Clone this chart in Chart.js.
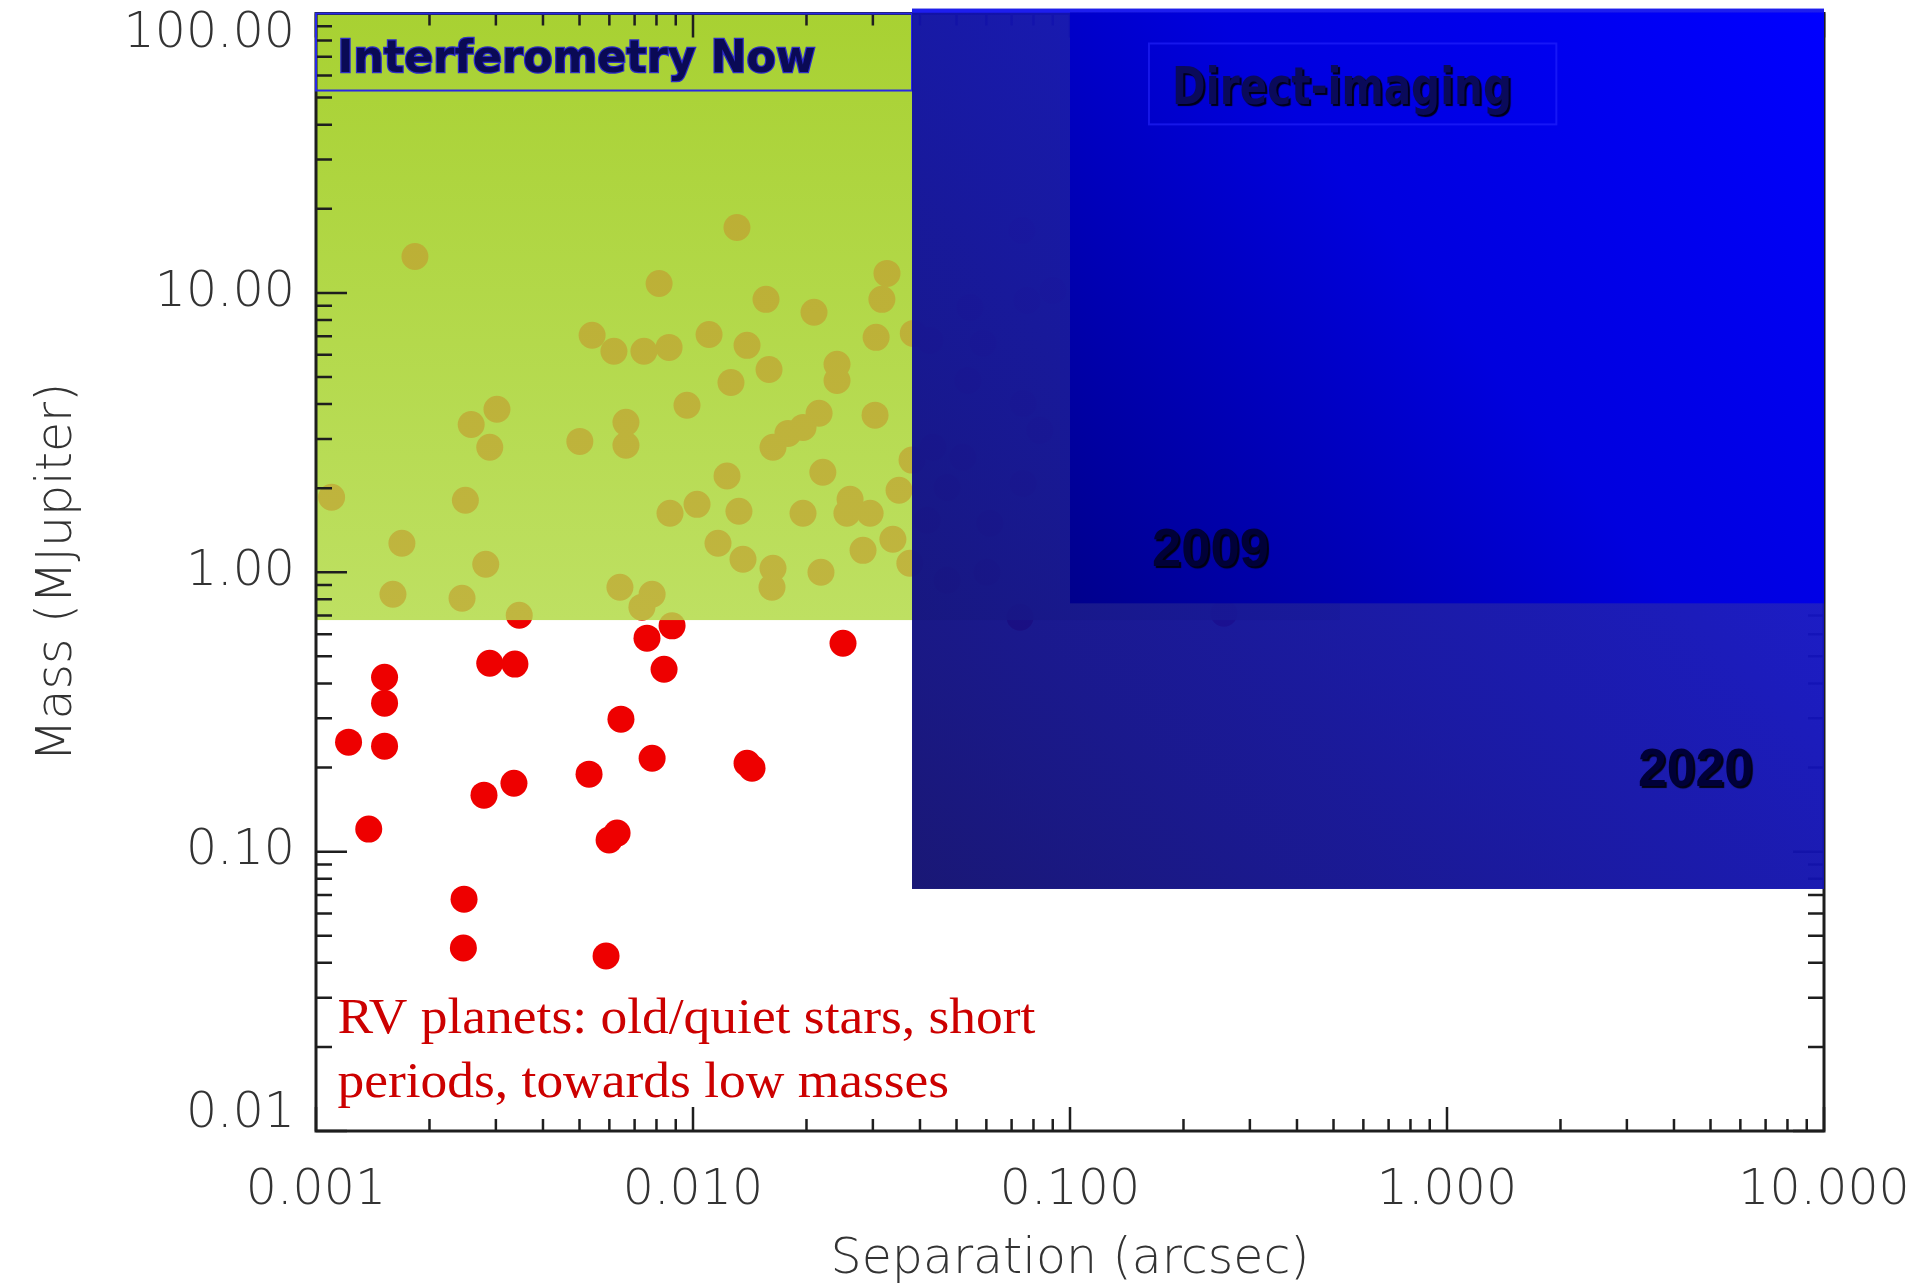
<!DOCTYPE html>
<html>
<head>
<meta charset="utf-8">
<title>Mass vs separation</title>
<script src="https://cdn.jsdelivr.net/npm/chart.js@4.4.1/dist/chart.umd.min.js"></script>
<style>
  html, body { margin: 0; padding: 0; background: #fff; overflow: hidden; }
  canvas { display: block; }
</style>
</head>
<body>
<canvas id="massChart" width="1915" height="1286"></canvas>
<script>
// --- planets (separation in arcsec, mass in MJupiter) ---
// inside the interferometry box
const sepInterf = [0.00183, 0.00540, 0.00617, 0.00302, 0.00258, 0.00289, 0.00501, 0.00664, 0.00664, 0.00110,
                   0.00249, 0.01308, 0.00813, 0.01562, 0.02094, 0.0327, 0.0317, 0.0306, 0.00741, 0.00864,
                   0.01103, 0.01391, 0.01591, 0.01261, 0.0241, 0.0241, 0.00964, 0.0216, 0.01958, 0.01786,
                   0.0163, 0.0304, 0.01231, 0.01025, 0.00869, 0.01324, 0.01958, 0.0221, 0.0256, 0.0261,
                   0.0295, 0.0352, 0.00169, 0.00282, 0.00160, 0.00244, 0.00640, 0.0339, 0.02825, 0.01165,
                   0.01357, 0.0163, 0.0162, 0.02185, 0.00779, 0.00732, 0.00346, 0.0376, 0.0381, 0.0384];
const massInterf = [13.5, 7.05, 6.18, 3.83, 3.38, 2.80, 2.94, 3.44, 2.85, 1.855,
                    1.81, 17.15, 10.8, 9.48, 8.52, 11.74, 9.48, 6.93, 6.18, 6.38,
                    7.10, 6.49, 5.32, 4.78, 5.55, 4.86, 3.96, 3.71, 3.30, 3.14,
                    2.80, 3.65, 2.21, 1.75, 1.626, 1.653, 1.626, 2.28, 1.626, 1.825,
                    1.626, 1.966, 1.27, 1.068, 0.834, 0.807, 0.884, 1.313, 1.198, 1.27,
                    1.113, 1.033, 0.884, 1.00, 0.834, 0.750, 0.702, 1.077, 2.52, 7.16];
// low-mass RV planets
const sepLow = [0.00289, 0.00337, 0.00152, 0.00152, 0.00122, 0.00152, 0.00644, 0.0053, 0.00335, 0.00279,
                0.00138, 0.00599, 0.00629, 0.00247, 0.00246, 0.00588, 0.0088, 0.00755, 0.00838, 0.0250,
                0.00779, 0.01391, 0.01434];
const massLow = [0.4726, 0.469, 0.421, 0.340, 0.2465, 0.2385, 0.298, 0.1894, 0.1758, 0.1593,
                 0.1204, 0.110, 0.1165, 0.0676, 0.0452, 0.0423, 0.643, 0.581, 0.4497, 0.557,
                 0.216, 0.2073, 0.199];
// wider planets, seen only faintly under the direct-imaging area
const sepWide = [0.0746, 0.0543, 0.0769, 0.0901, 0.0425, 0.0588, 0.0536, 0.0751, 0.0832, 0.0433,
                 0.0520, 0.0472, 0.0751, 0.0418, 0.0613, 0.0472, 0.0602, 0.0737, 0.256];
const massWide = [16.73, 8.87, 9.40, 10.2, 6.76, 6.60, 4.86, 4.02, 3.22, 2.80,
                  2.58, 2.01, 2.08, 1.535, 1.497, 0.936, 1.00, 0.690, 0.713];

// axes
const xTickValues = [0.001, 0.01, 0.1, 1, 10];
const xTickLabels = ['0.001', '0.010', '0.100', '1.000', '10.000'];
const yTickValues = [0.01, 0.1, 1, 10, 100];
const yTickLabels = ['0.01', '0.10', '1.00', '10.00', '100.00'];

// shaded areas (data coordinates)
const interfAreaX = [0.001, 0.52];
const interfAreaY = [0.673, 100];
const interfLabelBoxY = [53, 100];
const direct2020X = [0.0381, 10];
const direct2020Y = [0.0735, 104];
const direct2009X = [0.1, 10];
const direct2009Y = [0.774, 100.8];

const axisFont = "'DejaVu Sans', sans-serif";

const points = [];
[[sepInterf, massInterf], [sepLow, massLow], [sepWide, massWide]].forEach(([xs, ys]) => {
    xs.forEach((s, i) => points.push({ x: s, y: ys[i] }));
});

function isPow10(v) {
    const l = Math.log10(v);
    return Math.abs(l - Math.round(l)) < 1e-6;
}
function isWholeStep(v) {
    const s = v / Math.pow(10, Math.floor(Math.log10(v) + 1e-9));
    return Math.abs(s - Math.round(s)) < 1e-6;
}
function labelFor(v, values, labels) {
    const i = values.findIndex(t => Math.abs(Math.log10(t) - Math.log10(v)) < 1e-6);
    return i < 0 ? '' : labels[i];
}

// tick marks point inwards on all four sides, like the original plot
function drawFrame(chart) {
    const { ctx, chartArea: a, scales: { x, y } } = chart;
    ctx.save();
    ctx.strokeStyle = '#1e1e1e';
    ctx.lineWidth = 2.5;
    ctx.beginPath();
    x.ticks.forEach(t => {
        if (!isWholeStep(t.value)) return;
        const p = x.getPixelForValue(t.value);
        const len = isPow10(t.value) ? 24 : 12;
        ctx.moveTo(p, a.bottom); ctx.lineTo(p, a.bottom - len);
        ctx.moveTo(p, a.top); ctx.lineTo(p, a.top + len);
    });
    y.ticks.forEach(t => {
        if (!isWholeStep(t.value)) return;
        const p = y.getPixelForValue(t.value);
        const len = isPow10(t.value) ? 31 : 16;
        ctx.moveTo(a.left, p); ctx.lineTo(a.left + len, p);
        ctx.moveTo(a.right, p); ctx.lineTo(a.right - len, p);
    });
    ctx.stroke();
    ctx.lineWidth = 3;
    ctx.strokeRect(a.left, a.top, a.right - a.left, a.bottom - a.top);
    ctx.restore();
}

function rectOf(chart, xr, yr) {
    const { x, y } = chart.scales;
    const x0 = x.getPixelForValue(xr[0]), x1 = x.getPixelForValue(xr[1]);
    const y0 = y.getPixelForValue(yr[1]), y1 = y.getPixelForValue(yr[0]);
    return { x0, y0, x1, y1, w: x1 - x0, h: y1 - y0 };
}

function fitText(ctx, text, x, y, width) {
    const w = ctx.measureText(text).width;
    ctx.save();
    ctx.translate(x, y);
    ctx.scale(width / w, 1);
    ctx.fillText(text, 0, 0);
    ctx.restore();
    return width / w;
}

const areasPlugin = {
    id: 'areas',
    afterDatasetsDraw(chart) {
        const { ctx } = chart;

        // interferometry area: points under it turn olive, green goes behind them
        const g = rectOf(chart, interfAreaX, interfAreaY);
        ctx.save();
        ctx.beginPath();
        ctx.rect(g.x0, g.y0, g.w, g.h);
        ctx.clip();
        ctx.globalCompositeOperation = 'source-atop';
        const olive = ctx.createLinearGradient(0, g.y0, 0, g.y1);
        olive.addColorStop(0, 'rgb(186,172,48)');
        olive.addColorStop(1, 'rgb(192,182,64)');
        ctx.fillStyle = olive;
        ctx.fillRect(g.x0, g.y0, g.w, g.h);
        ctx.globalCompositeOperation = 'destination-over';
        const green = ctx.createLinearGradient(0, g.y0, 0, g.y1);
        green.addColorStop(0, 'rgb(168,209,50)');
        green.addColorStop(1, 'rgb(190,224,98)');
        ctx.fillStyle = green;
        ctx.fillRect(g.x0, g.y0, g.w, g.h);
        ctx.restore();

        drawFrame(chart);

        // label box of the interferometry area
        const lb = rectOf(chart, [interfAreaX[0], direct2020X[0]], interfLabelBoxY);
        ctx.save();
        ctx.strokeStyle = 'rgb(40,40,230)';
        ctx.lineWidth = 2;
        ctx.strokeRect(lb.x0, lb.y0, lb.w, lb.h);
        ctx.restore();

        // direct imaging, 2020 reach (slightly see-through)
        const a = rectOf(chart, direct2020X, direct2020Y);
        ctx.save();
        ctx.globalAlpha = 0.96;
        const ga = ctx.createLinearGradient(a.x0, a.y1, a.x1, a.y0);
        ga.addColorStop(0, 'rgb(16,14,112)');
        ga.addColorStop(0.5, 'rgb(18,18,172)');
        ga.addColorStop(1, 'rgb(22,22,238)');
        ctx.fillStyle = ga;
        ctx.fillRect(a.x0, a.y0, a.w, a.h);
        ctx.globalAlpha = 1;
        ctx.strokeStyle = 'rgb(30,30,238)';
        ctx.lineWidth = 4;
        ctx.beginPath();
        ctx.moveTo(a.x0, a.y0 + 2); ctx.lineTo(a.x1, a.y0 + 2);
        ctx.stroke();
        ctx.restore();

        // direct imaging, 2009 reach
        const b = rectOf(chart, direct2009X, direct2009Y);
        ctx.save();
        const gb = ctx.createLinearGradient(b.x0, b.y1, b.x1, b.y0);
        gb.addColorStop(0, 'rgb(0,0,140)');
        gb.addColorStop(0.5, 'rgb(0,0,222)');
        gb.addColorStop(1, 'rgb(0,0,255)');
        ctx.fillStyle = gb;
        ctx.fillRect(b.x0, b.y0, b.w, b.h);
        ctx.restore();
    },
    afterDraw(chart) {
        const { ctx, scales: { x, y } } = chart;
        ctx.save();
        ctx.textBaseline = 'alphabetic';
        ctx.textAlign = 'left';

        // Interferometry Now
        ctx.font = "bold 44px 'DejaVu Sans', sans-serif";
        ctx.lineWidth = 2.5;
        ctx.strokeStyle = 'rgb(45,45,200)';
        ctx.fillStyle = '#0a0a55';
        {
            const tx = x.getPixelForValue(0.00114), ty = y.getPixelForValue(61.5);
            const w = ctx.measureText('Interferometry Now').width;
            ctx.save();
            ctx.translate(tx, ty);
            ctx.scale(478 / w, 1);
            ctx.strokeText('Interferometry Now', 0, 0);
            ctx.fillText('Interferometry Now', 0, 0);
            ctx.restore();
        }

        // Direct-imaging with its faint box
        const db = rectOf(chart, [0.162, 1.95], [40.1, 78.1]);
        ctx.strokeStyle = 'rgba(40,40,255,0.55)';
        ctx.lineWidth = 2;
        ctx.strokeRect(db.x0, db.y0, db.w, db.h);

        ctx.shadowColor = 'rgba(0,0,0,0.9)';
        ctx.shadowOffsetX = 2;
        ctx.shadowOffsetY = 2;
        ctx.shadowBlur = 1;
        ctx.fillStyle = '#0a0a5a';
        ctx.font = "bold 52px 'DejaVu Sans', sans-serif";
        fitText(ctx, 'Direct-imaging', x.getPixelForValue(0.1865), y.getPixelForValue(47.6), 340);

        ctx.fillStyle = '#000038';
        ctx.font = "bold 53px 'Liberation Sans', Arial, sans-serif";
        fitText(ctx, '2009', x.getPixelForValue(0.165), y.getPixelForValue(1.05), 117);
        fitText(ctx, '2020', x.getPixelForValue(3.21), y.getPixelForValue(0.1715), 115);

        // RV note
        ctx.shadowColor = 'transparent';
        ctx.fillStyle = '#cc0000';
        ctx.font = "50px 'Liberation Serif', 'Times New Roman', serif";
        const rx = x.getPixelForValue(0.00114);
        const w1 = ctx.measureText('RV planets: old/quiet stars, short').width;
        const k = 698 / w1;
        ctx.save();
        ctx.translate(rx, y.getPixelForValue(0.0224));
        ctx.scale(k, 1);
        ctx.fillText('RV planets: old/quiet stars, short', 0, 0);
        ctx.restore();
        ctx.save();
        ctx.translate(rx, y.getPixelForValue(0.01323));
        ctx.scale(k, 1);
        ctx.fillText('periods, towards low masses', 0, 0);
        ctx.restore();

        ctx.restore();
    }
};

const ctx = document.getElementById('massChart').getContext('2d');
new Chart(ctx, {
    type: 'scatter',
    data: {
        datasets: [{
            label: 'planets',
            data: points,
            pointRadius: 13.5,
            pointHoverRadius: 13.5,
            pointBackgroundColor: 'rgb(238,0,0)',
            pointBorderWidth: 0
        }]
    },
    options: {
        responsive: false,
        animation: false,
        devicePixelRatio: 1,
        events: [],
        layout: { padding: { top: 13, right: 91, bottom: 0, left: 0 } },
        plugins: { legend: { display: false }, tooltip: { enabled: false } },
        scales: {
            x: {
                type: 'logarithmic',
                min: 0.001,
                max: 10,
                grid: { display: false, drawTicks: false },
                border: { display: false },
                ticks: {
                    autoSkip: false,
                    maxRotation: 0,
                    padding: 31,
                    color: '#333',
                    font: { family: axisFont, size: 49, weight: '200' },
                    callback: v => labelFor(v, xTickValues, xTickLabels)
                },
                title: {
                    display: true,
                    text: 'Separation (arcsec)',
                    color: '#333',
                    font: { family: axisFont, size: 49, weight: '200', lineHeight: 1.0 },
                    padding: { top: 0, bottom: 1 }
                },
                afterFit: s => { s.height = 155; s.paddingLeft = 0; s.paddingRight = 0; }
            },
            y: {
                type: 'logarithmic',
                min: 0.01,
                max: 100,
                grid: { display: false, drawTicks: false },
                border: { display: false },
                ticks: {
                    autoSkip: false,
                    padding: 21,
                    color: '#333',
                    font: c => {
                        const v = c.tick ? c.tick.value : 1;
                        let lh = 1.2;
                        if (isPow10(v) && Math.round(Math.log10(v)) === 2) lh = 0.84;
                        if (isPow10(v) && Math.round(Math.log10(v)) === -2) lh = 0.68;
                        return { family: axisFont, size: 49, weight: '200', lineHeight: lh };
                    },
                    callback: v => {
                        const l = labelFor(v, yTickValues, yTickLabels);
                        if (l === yTickLabels[4]) return ['', l];
                        if (l === yTickLabels[0]) return [l, ''];
                        return l;
                    }
                },
                title: {
                    display: true,
                    text: 'Mass (MJupiter)',
                    color: '#333',
                    font: { family: axisFont, size: 49, weight: '200' },
                    padding: { top: 29, bottom: 0 }
                },
                afterFit: s => { s.width = 316; s.paddingTop = 0; s.paddingBottom = 0; }
            }
        }
    },
    plugins: [areasPlugin]
});
</script>
</body>
</html>
